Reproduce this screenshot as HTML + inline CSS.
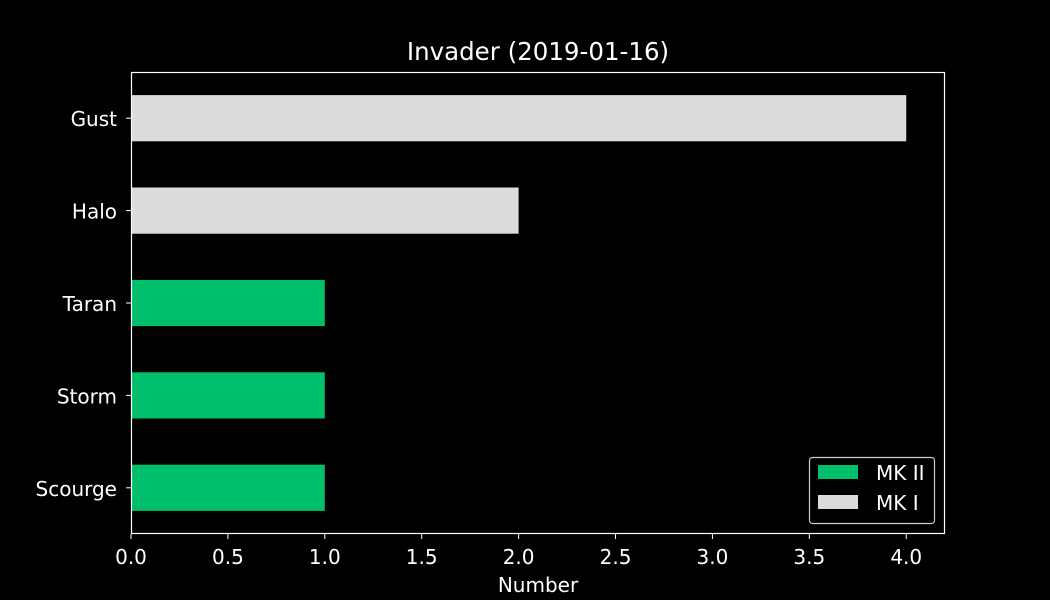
<!DOCTYPE html>
<html><head><meta charset="utf-8"><style>
body{margin:0;background:#000;}
svg{display:block;font-family:"DejaVu Sans","Liberation Sans",sans-serif;}
</style></head><body>
<svg id="chart" width="1050" height="600" viewBox="0 0 1050 600">
<rect width="1050" height="600" fill="#000"/>
<text x="538" y="60" fill="#fff" font-size="24.5" text-anchor="middle">Invader (2019-01-16)</text>
<g id="bars"></g>
<g id="axes"></g>
<text x="538" y="592" fill="#fff" font-size="20" text-anchor="middle">Number</text>
<g>
<rect x="809.5" y="457.5" width="125" height="66" rx="3" fill="#000" stroke="#ccc" stroke-width="1.2"/>
<rect x="818" y="465" width="40" height="14" fill="#00BF6A"/>
<text x="876" y="480" fill="#fff" font-size="20">MK II</text>
<rect x="818" y="495" width="40" height="14" fill="#DCDCDC"/>
<text x="876" y="510" fill="#fff" font-size="20">MK I</text>
</g>
</svg>
<script>
const categories = ["Scourge","Storm","Taran","Halo","Gust"];
const values = [1,1,1,2,4];
const series = ["MK II","MK II","MK II","MK I","MK I"];
const xTicks = [0,0.5,1,1.5,2,2.5,3,3.5,4];
const NS="http://www.w3.org/2000/svg";
const L=131,R=945,T=72,B=534,XMAX=4.2;
const x=v=>L+(R-L)*v/XMAX;
const y=i=>B-(B-T)*(i+0.5)/categories.length;
const bw=(B-T)/categories.length*0.5;
const colors={"MK II":"#00BF6A","MK I":"#DCDCDC"};
const bars=document.getElementById('bars'), axes=document.getElementById('axes');
function mk(tag,attrs,parent){const e=document.createElementNS(NS,tag);for(const k in attrs)e.setAttribute(k,attrs[k]);parent.appendChild(e);return e;}
categories.forEach((c,i)=>{
  const r=mk('rect',{x:x(0),y:y(i)-bw/2,width:x(values[i])-x(0),height:bw,fill:colors[series[i]]},bars);
  
  
  const t=mk('line',{x1:L-5,x2:L,y1:y(i),y2:y(i),stroke:'#fff','stroke-width':1},axes);
  
  
  const lb=mk('text',{x:L-14,y:y(i)+8,fill:'#fff','font-size':20,'text-anchor':'end'},axes);
  lb.textContent=c;
  
  
});
xTicks.forEach(v=>{
  const t=mk('line',{x1:x(v),x2:x(v),y1:B,y2:B+5,stroke:'#fff','stroke-width':1},axes);
  
  
  const lb=mk('text',{x:x(v),y:B+30,fill:'#fff','font-size':20,'text-anchor':'middle'},axes);
  lb.textContent=v.toFixed(1);
  
  
});
const f=mk('rect',{x:L+0.5,y:T+0.5,width:R-L-1,height:B-T-1,fill:'none',stroke:'#fff','stroke-width':1.2},axes);


</script>
</body></html>
